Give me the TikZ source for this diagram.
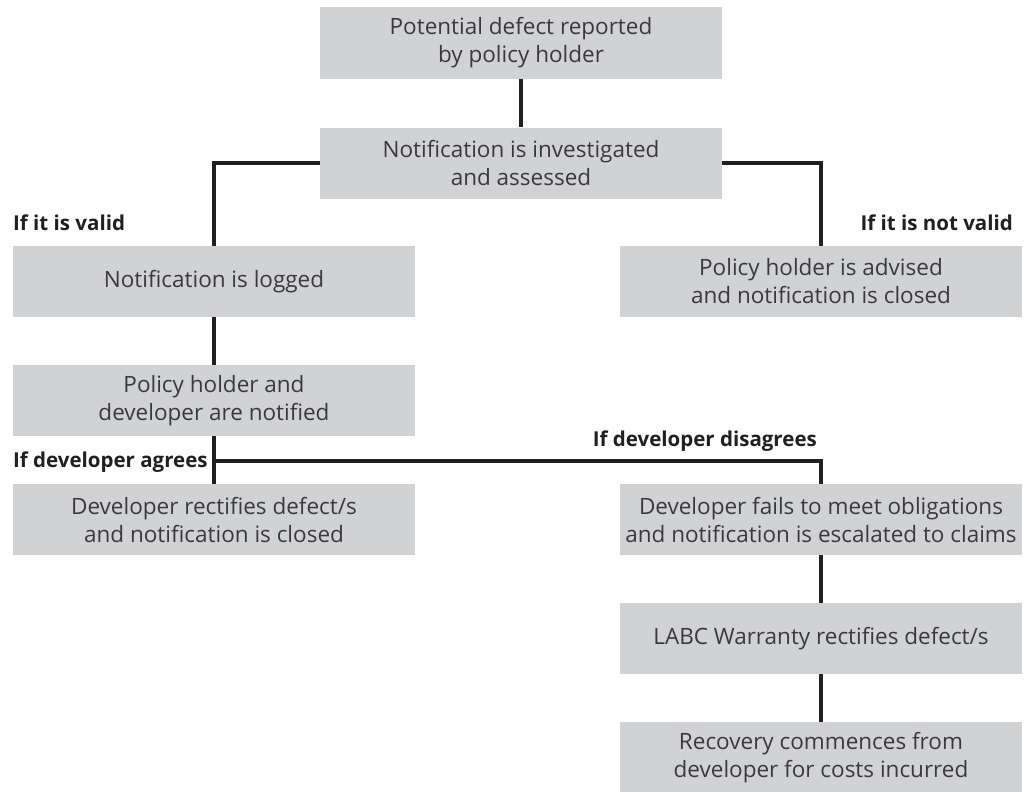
\documentclass[tikz,border=0pt]{standalone}
\usepackage{fontspec}
\setmainfont{Open Sans}
\definecolor{boxgrey}{HTML}{D1D2D4}
\definecolor{txtgrey}{HTML}{3A3A3C}
\definecolor{linedark}{HTML}{231F20}
\begin{document}
\begin{tikzpicture}[x=1pt,y=-1pt,
  stepbox/.style={fill=boxgrey, draw=none, minimum width=402pt, minimum height=71pt,
    align=center, text=txtgrey, inner sep=0pt,
    font=\fontsize{22.5}{28}\selectfont},
  lbl/.style={text=linedark, inner sep=0pt, font=\fontsize{20.5}{24}\selectfont\bfseries},
  conn/.style={draw=linedark, line width=4.8pt}]
\useasboundingbox (0,0) rectangle (1025,792);
\node[stepbox] (b1) at (521,43) {Potential defect reported\\by policy holder};
\node[stepbox] (b2) at (521,163) {Notification is investigated\\and assessed};
\node[stepbox] (b3) at (214,281.5) {Notification is logged};
\node[stepbox] (b4) at (821,281.5) {Policy holder is advised\\and notification is closed};
\node[stepbox] (b5) at (214,400.5) {Policy holder and\\developer are notified};
\node[stepbox] (b6) at (214,519.5) {Developer rectifies defect/s\\and notification is closed};
\node[stepbox] (b7) at (821,519.5) {Developer fails to meet obligations\\and notification is escalated to claims};
\node[stepbox] (b8) at (821,638.5) {LABC Warranty rectifies defect/s};
\node[stepbox] (b9) at (821,757.5) {Recovery commences from\\developer for costs incurred};
\coordinate (j) at (214,461);
\draw[conn] (b1.south) -- (b2.north);
\draw[conn] (b2.west) -| (b3.north);
\draw[conn] (b2.east) -| (b4.north);
\draw[conn] (b3.south) -- (b5.north);
\draw[conn] (b5.south) -- (b6.north);
\draw[conn] (j) -| (b7.north);
\draw[conn] (b7.south) -- (b8.north);
\draw[conn] (b8.south) -- (b9.north);
\node[lbl, anchor=base west] (l1) at (13,230) {If it is valid};
\node[lbl, anchor=base east] (l2) at (1013,230) {If it is not valid};
\node[lbl, anchor=base west] (l3) at (13,467) {If developer agrees};
\node[lbl, anchor=base east] (l4) at (817,446) {If developer disagrees};
\end{tikzpicture}
\end{document}
